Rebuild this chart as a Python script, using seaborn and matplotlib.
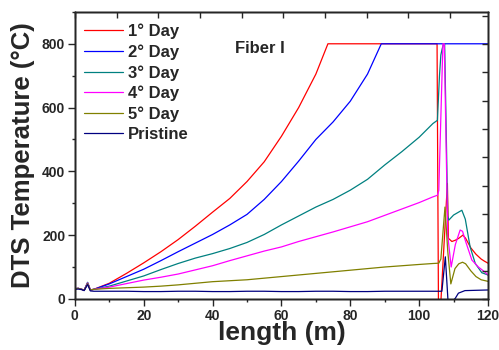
import pandas as pd
import matplotlib
matplotlib.use("Agg")
import matplotlib.pyplot as plt
import seaborn as sns

# Data (length in m, DTS temperature in °C)
series_names = ["1° Day", "2° Day", "3° Day", "4° Day", "5° Day", "Pristine"]
series_colors = ["#ff0000", "#0000ff", "#008080", "#ff00ff", "#808000", "#000080"]

x_start = [0, 1, 2, 2.7, 3.7, 4.5, 5.5]
x_body = [10, 15, 20, 25, 30, 35, 40, 45, 50, 55, 60, 65, 70, 75, 80, 85, 90, 95, 100]

# 1° Day
x_day1 = x_start + [10, 15, 20, 25, 30, 35, 40, 45, 50, 55, 60, 65, 70, 73.5,
                    105.2, 105.6, 106.3, 108.2, 108.5, 109.5, 110.5, 111.5, 112.7,
                    113.5, 115, 116.5, 118, 119, 120]
t_day1 = [32, 33, 30, 27, 50, 28, 30,
          49, 80, 113, 148, 186, 228, 272, 315, 368, 430, 510, 600, 705, 800,
          800, -10, -10, 362, 190, 180, 184, 190, 200,
          190, 160, 140, 125, 118, 112]

# 2° Day
x_day2 = x_start + [10, 15, 20, 25, 30, 35, 40, 45, 50, 55, 60, 65, 70, 75, 80, 85, 89, 120]
t_day2 = [32, 33, 30, 27, 50, 28, 30,
          47, 70, 93, 120, 148, 175, 202, 232, 265, 312, 368, 432, 500, 555, 620, 705, 800, 800]

# 3° Day
x_day3 = x_start + x_body + [104, 105.3, 105.9, 106.3, 106.7, 107.1, 107.4, 108.3, 108.6,
                             110, 112.4, 113.4, 114.8, 116.3, 118.2, 120]
t_day3 = [32, 33, 30, 27, 52, 28, 30,
          40, 56, 72, 92, 111, 128, 142, 158, 177, 202, 232, 260, 288, 312, 341, 375, 420, 462, 507,
          550, 560, 700, 765, 785, 800, 800, 260, 247,
          263, 278, 250, 163, 111, 82, 75]

# 4° Day
x_day4 = x_start + x_body + [104, 105.3, 105.7, 106.9, 107.3, 108.3, 109.3, 110.5, 111.9,
                             112.6, 113.5, 115.3, 117.2, 119, 120]
t_day4 = [32, 33, 30, 27, 50, 28, 30,
          37, 48, 59, 68, 78, 91, 104, 120, 135, 150, 163, 180, 195, 210, 226, 242, 262, 282, 302,
          320, 325, 340, 800, 800, 200, 100, 170, 216,
          212, 180, 122, 100, 85, 75]

# 5° Day
x_day5 = x_start + x_body + [104, 105.7, 106.3, 107.5, 108.3, 109.2, 110.4, 111.5, 112.6,
                             113.5, 115, 116.5, 118, 120]
t_day5 = [32, 33, 30, 27, 48, 28, 30,
          33, 35, 37, 40, 44, 49, 54, 57, 60, 65, 70, 75, 80, 85, 90, 95, 100, 104, 108,
          111, 112, 125, 288, 150, 47, 95, 110, 115,
          110, 88, 70, 60, 55]

# Pristine
x_pristine = x_start + x_body + [104, 106.6, 107.6, 108.4, 109.5, 110.5, 111.4, 113.3, 120]
t_pristine = [30, 31, 29, 26, 45, 25, 24,
              24, 24, 23, 23, 24, 24, 23, 23, 24, 24, 23, 23, 24, 24, 23, 23, 24, 24, 24,
              24, 24, 132, -10, -10, 2, 18, 26, 28]

xs = [x_day1, x_day2, x_day3, x_day4, x_day5, x_pristine]
ts = [t_day1, t_day2, t_day3, t_day4, t_day5, t_pristine]

frames = []
for name, x, t in zip(series_names, xs, ts):
    frames.append(pd.DataFrame({"length": x, "temp": t, "series": name}))
df = pd.concat(frames, ignore_index=True)

sns.set_theme(style="ticks")
plt.rcParams["font.family"] = ["Liberation Sans", "DejaVu Sans"]
plt.rcParams["font.weight"] = "bold"

fig = plt.figure(figsize=(4.99, 3.5), dpi=100)
ax = fig.add_axes([0.150, 0.146, 0.828, 0.820])

sns.lineplot(data=df, x="length", y="temp", hue="series", hue_order=series_names,
             palette=series_colors, estimator=None, sort=False, linewidth=0.9, ax=ax)

ax.set_xlim(0, 120)
ax.set_ylim(0, 897)
ax.set_xticks(range(0, 121, 20))
ax.set_xticks(range(0, 121, 10), minor=True)
ax.set_yticks(range(0, 801, 200))
ax.set_yticks(range(0, 901, 100), minor=True)
ax.tick_params(which="major", direction="out", length=5, width=1, labelsize=10, pad=2)
ax.tick_params(which="minor", direction="out", length=2.5, width=1)
for lab in ax.get_xticklabels() + ax.get_yticklabels():
    lab.set_fontweight("bold")
for sp in ax.spines.values():
    sp.set_linewidth(1)
    sp.set_color("black")

ax.set_xlabel("length (m)", fontsize=19, fontweight="bold", labelpad=-1)
ax.set_ylabel("DTS Temperature (°C)", fontsize=18.5, fontweight="bold", labelpad=5)

# top and right axes carry their own inward ticks
ax_top = ax.twiny()
ax_top.set_xlim(0, 9.91)
ax_top.set_xticks(range(10))
ax_top.tick_params(axis="x", direction="in", length=4, width=1, labeltop=False)
ax_right = ax.twinx()
ax_right.set_ylim(0, 10.14)
ax_right.set_yticks(range(11))
ax_right.tick_params(axis="y", direction="in", length=4, width=1, labelright=False)
for a in (ax_top, ax_right):
    for sp in a.spines.values():
        sp.set_linewidth(1)

handles, labels = ax.get_legend_handles_labels()
ax.legend(handles, labels, loc="upper left", bbox_to_anchor=(-0.007, 1.0), frameon=False,
          prop={"weight": "bold", "size": 12}, handlelength=2.35, handletextpad=0.3,
          labelspacing=0.31, borderaxespad=0.3)

ax.text(46.5, 785, "Fiber I", fontsize=12, fontweight="bold", ha="left", va="center")

fig.savefig("out.png", dpi=100)
